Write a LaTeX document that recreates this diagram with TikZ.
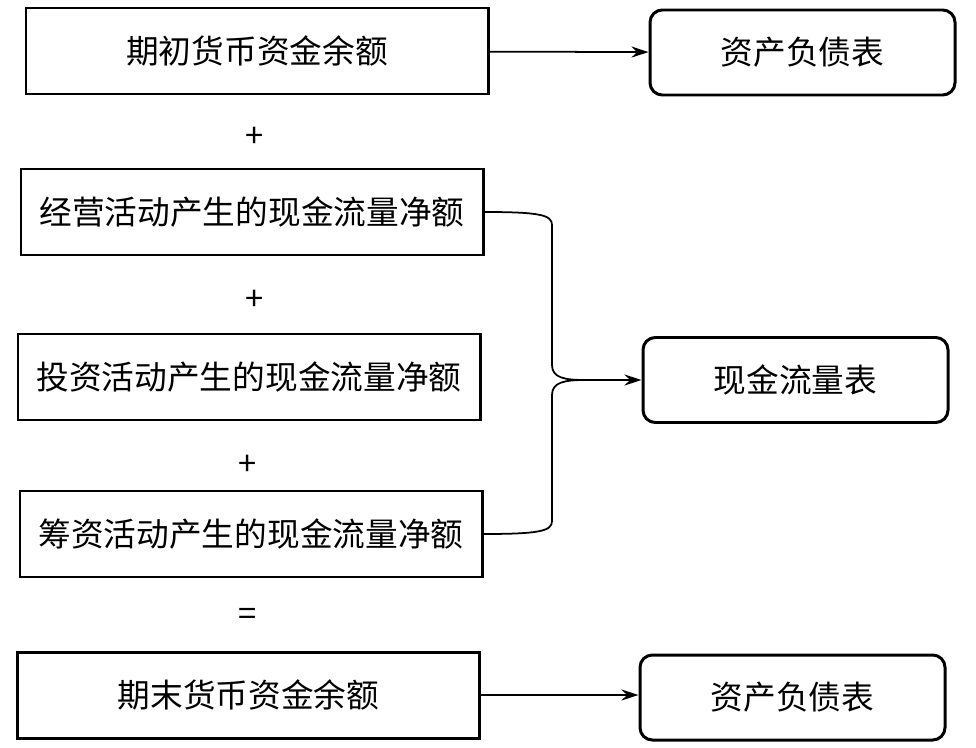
\documentclass[tikz,border=0pt]{standalone}
\usepackage{fontspec}
\setmainfont{Noto Sans CJK SC}
\usetikzlibrary{arrows.meta, positioning, calc}

\begin{document}
\begin{tikzpicture}[
        font=\fontsize{9.3pt}{11pt}\selectfont,
        item/.style={draw, line width=0.85pt, minimum width=4.62cm, minimum height=0.86cm, align=center, inner sep=0pt},
        report/.style={draw, line width=0.85pt, rounded corners=3.5pt, minimum width=3.05cm, minimum height=0.85cm, align=center, inner sep=0pt},
        arr/.style={-{Stealth[length=1.7mm, width=1.1mm]}, line width=0.5pt},
        brace/.style={line width=0.5pt}
    ]
        \useasboundingbox (0,0) rectangle (9.76,-7.48);

        % left column
        \node[item] (open)  at (2.57,-0.51) {期初货币资金余额};
        \node[item] (oper)  at (2.52,-2.12) {经营活动产生的现金流量净额};
        \node[item] (inv)   at (2.49,-3.77) {投资活动产生的现金流量净额};
        \node[item] (fin)   at (2.51,-5.34) {筹资活动产生的现金流量净额};
        \node[item] (close) at (2.485,-6.95) {期末货币资金余额};

        \node (p1) at (2.55,-1.37) {+};
        \node (p2) at (2.55,-3.00) {+};
        \node (p3) at (2.48,-4.65) {+};
        \node (eq) at (2.48,-6.17) {=};

        % right column
        \node[report] (bs1) at (8.025,-0.525) {资产负债表};
        \node[report] (cf)  at (7.955,-3.80)  {现金流量表};
        \node[report] (bs2) at (7.925,-6.975) {资产负债表};

        \draw[arr] (open) -- (bs1);
        \draw[arr] (close.east) -- (close.east -| bs2.west);

        % brace into the cash flow statement
        \coordinate (join) at (5.85,-3.80);
        \draw[brace] (oper.east) .. controls (5.40,-2.12) and (5.52,-2.15) .. (5.52,-2.25)
            -- (5.52,-3.65) .. controls (5.52,-3.78) and (5.65,-3.80) .. (join);
        \draw[brace] (fin.east) .. controls (5.40,-5.34) and (5.52,-5.31) .. (5.52,-5.21)
            -- (5.52,-3.95) .. controls (5.52,-3.82) and (5.65,-3.80) .. (join);
        \draw[arr] (join) -- (cf);
    \end{tikzpicture}
\end{document}
